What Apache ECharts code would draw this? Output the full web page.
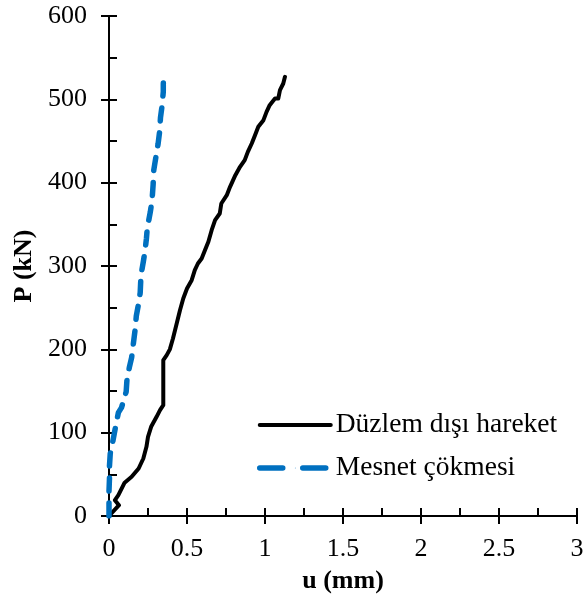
<!DOCTYPE html>
<html>
<head>
<meta charset="utf-8">
<script src="https://cdn.jsdelivr.net/npm/echarts@6/dist/echarts.min.js"></script>
<style>html,body{margin:0;padding:0;background:#fff}#c{width:585px;height:600px}</style>
</head>
<body>
<div id="c"></div>
<script>
// Data
var duzlemU = [0,0.064,0.038,0.06,0.10,0.145,0.19,0.22,0.24,0.25,0.27,0.305,0.327,0.348,0.348,0.37,0.39,0.41,0.434,0.455,0.476,0.50,0.53,0.55,0.57,0.594,0.615,0.637,0.658,0.68,0.71,0.72,0.755,0.776,0.81,0.84,0.87,0.89,0.915,0.936,0.957,0.99,1.01,1.03,1.064,1.085,1.096,1.117,1.128];
var duzlemP = [0,13,19,25,40,47,57,69,83,95,107,119,127,133,187,193,200,213,231,247,261,273,283,295,303,309,319,329,343,355,363,375,385,395,409,419,427,437,447,457,467,475,485,493,501,501,511,519,527];
var mesnetU = [0,0,0,0.003,0.003,0.008,0.02,0.04,0.06,0.08,0.11,0.115,0.13,0.145,0.155,0.167,0.175,0.19,0.2,0.205,0.22,0.23,0.24,0.245,0.265,0.276,0.283,0.287,0.3,0.315,0.325,0.33,0.34,0.348,0.348,0.35];
var mesnetP = [0,15,30,45,60,75,85,105,124,130,149,163,178,190,205,223,240,255,268,289,305,317,333,345,365,379,398,415,430,447,462,478,492,509,518,527];
var seriesNames = ['Düzlem dışı hareket', 'Mesnet çökmesi'];
var xTitle = 'u (mm)';
var yTitle = 'P (kN)';

function pairs(u, p) { return u.map(function (v, i) { return [v, p[i]]; }); }

var FONT = '"Liberation Serif", "Times New Roman", serif';
var gridPos = { left: 109, right: 8, top: 16, bottom: 84, outerBoundsMode: 'none', containLabel: false };

var chart = echarts.init(document.getElementById('c'));
chart.setOption({
  animation: false,
  backgroundColor: '#fff',
  grid: [
    Object.assign({}, gridPos),
    Object.assign({}, gridPos)
  ],
  xAxis: [
    {
      gridIndex: 0, type: 'value', min: 0, max: 3, interval: 0.5,
      name: xTitle, nameLocation: 'middle', nameGap: 52,
      nameTextStyle: { fontFamily: FONT, fontSize: 26, fontWeight: 'bold', color: '#000' },
      axisLine: { show: true, onZero: false, lineStyle: { color: '#000', width: 2 } },
      axisTick: { show: true, inside: true, length: 8, lineStyle: { color: '#000', width: 2 } },
      minorTick: { show: true, splitNumber: 2, length: 8, lineStyle: { color: '#000', width: 2 } },
      axisLabel: { fontFamily: FONT, fontSize: 26, color: '#000', margin: 20, showMaxLabel: true, hideOverlap: false },
      splitLine: { show: false }
    },
    {
      gridIndex: 1, type: 'value', min: 0, max: 3, interval: 0.5,
      axisLine: { show: false },
      axisTick: { show: true, inside: false, length: 8, lineStyle: { color: '#000', width: 2 } },
      axisLabel: { show: false },
      splitLine: { show: false }
    }
  ],
  yAxis: [
    {
      gridIndex: 0, type: 'value', min: 0, max: 600, interval: 100,
      name: yTitle, nameLocation: 'middle', nameGap: 58,
      nameTextStyle: { fontFamily: FONT, fontSize: 26, fontWeight: 'bold', color: '#000' },
      axisLine: { show: true, onZero: false, lineStyle: { color: '#000', width: 2 } },
      axisTick: { show: true, inside: true, length: 8, lineStyle: { color: '#000', width: 2 } },
      minorTick: { show: true, splitNumber: 2, length: 8, lineStyle: { color: '#000', width: 2 } },
      axisLabel: { fontFamily: FONT, fontSize: 26, color: '#000', margin: 22 },
      splitLine: { show: false }
    },
    {
      gridIndex: 1, type: 'value', min: 0, max: 600, interval: 100,
      axisLine: { show: false },
      axisTick: { show: true, inside: false, length: 8, lineStyle: { color: '#000', width: 2 } },
      axisLabel: { show: false },
      splitLine: { show: false }
    }
  ],
  legend: {
    orient: 'vertical', left: 257, top: 410, padding: 0,
    itemWidth: 71, itemHeight: 1, itemGap: 13,
    textStyle: { fontFamily: FONT, fontSize: 27.5, color: '#000', lineHeight: 30 },
    data: [
      { name: seriesNames[0], lineStyle: { width: 4 } },
      { name: seriesNames[1], lineStyle: { type: [23, 20], width: 5.5, cap: 'round' } }
    ]
  },
  series: [
    {
      name: seriesNames[0], type: 'line', xAxisIndex: 0, yAxisIndex: 0,
      data: pairs(duzlemU, duzlemP), symbol: 'none', smooth: false,
      lineStyle: { color: '#000', width: 4, cap: 'round', join: 'round' },
      itemStyle: { color: '#000' }, z: 3
    },
    {
      name: seriesNames[1], type: 'line', xAxisIndex: 0, yAxisIndex: 0,
      data: pairs(mesnetU, mesnetP), symbol: 'none', smooth: false,
      lineStyle: { color: '#0070C0', width: 5.5, type: [13, 12], cap: 'round', join: 'round' },
      itemStyle: { color: '#0070C0' }, z: 4
    }
  ]
});
</script>
</body>
</html>
